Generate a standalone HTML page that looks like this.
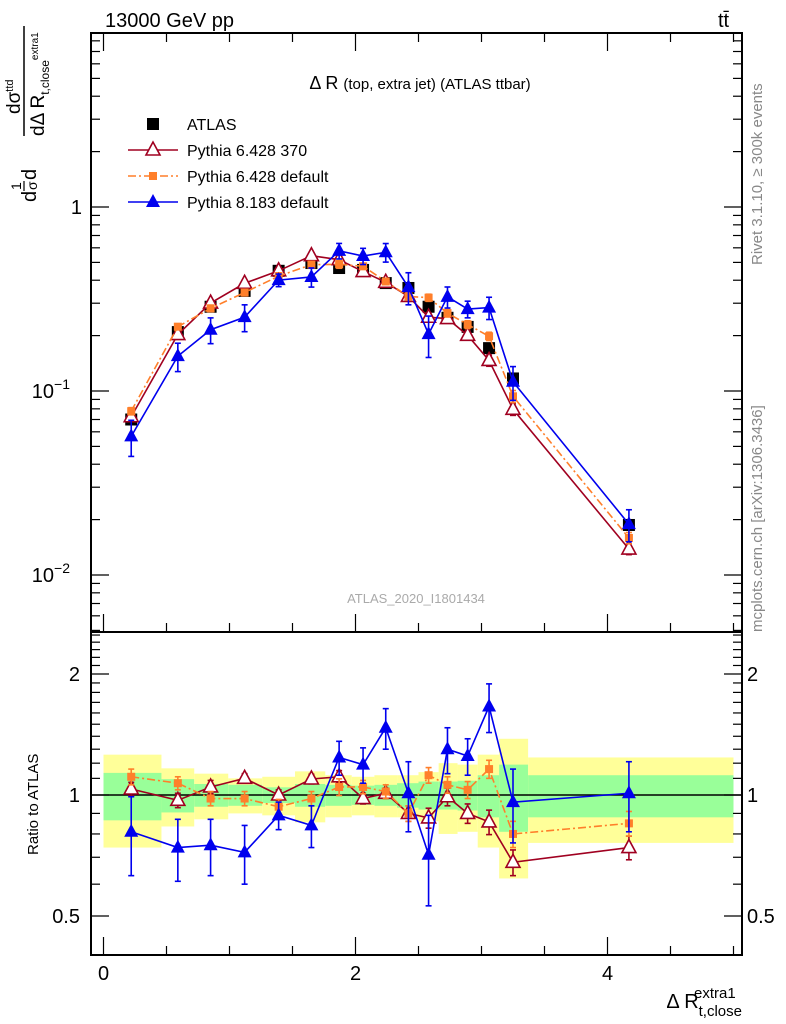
<!DOCTYPE html>
<html><head><meta charset="utf-8"><style>
html,body{margin:0;padding:0;background:#fff;}
svg{display:block;font-family:"Liberation Sans",sans-serif;}
</style></head><body>
<svg id="c" width="786" height="1024" viewBox="0 0 786 1024">
<g id="bands"></g>
<g id="frames"></g>
<g id="series"></g>
<text x="105" y="27" font-size="20">13000 GeV pp</text>
<text x="718" y="27" font-size="20">tt̄</text>
<text x="420" y="89" font-size="18" text-anchor="middle">Δ R <tspan font-size="15">(top, extra jet) (ATLAS ttbar)</tspan></text>
<text x="416" y="603" font-size="13" fill="#aaa" text-anchor="middle">ATLAS_2020_I1801434</text>
<text transform="translate(762,265) rotate(-90)" font-size="15" fill="#888">Rivet 3.1.10, ≥ 300k events</text>
<text transform="translate(762,632) rotate(-90)" font-size="15" fill="#888">mcplots.cern.ch [arXiv:1306.3436]</text>
<g transform="translate(0,212) rotate(-90)">
<text x="10" y="36" font-size="20">d</text>
<text x="22" y="21" font-size="14">1</text>
<line x1="21" x2="31" y1="24" y2="24" stroke="#000" stroke-width="1.2"/>
<text x="22" y="37" font-size="14">σ</text>
<text x="32" y="36" font-size="20">d</text>
<line x1="76" x2="186" y1="24" y2="24" stroke="#000" stroke-width="1.5"/>
<text x="98" y="20" font-size="19">dσ<tspan font-size="11" dy="-7">ttd</tspan></text>
<text x="76" y="44" font-size="19">dΔ R<tspan font-size="12" dy="5">t,close</tspan><tspan font-size="10" dy="-11">extra1</tspan></text>
</g>
<text transform="translate(38,855) rotate(-90)" font-size="15">Ratio to ATLAS</text>
<text x="742" y="1008" font-size="20" text-anchor="end">Δ R<tspan font-size="15" dy="8">t,close</tspan><tspan font-size="15" dx="-48" dy="-18">extra1</tspan></text>
<g id="legend"></g>
</svg>
<script>
const edges=[0,0.46,0.72,0.99,1.26,1.52,1.76,1.97,2.15,2.33,2.50,2.66,2.81,2.97,3.14,3.37,5.0];
const xc=[0.22,0.59,0.85,1.12,1.39,1.65,1.87,2.06,2.24,2.42,2.58,2.73,2.89,3.06,3.25,4.17];
const atlas=[0.070,0.209,0.287,0.35,0.45,0.496,0.466,0.455,0.386,0.363,0.287,0.25,0.223,0.171,0.117,0.0187];
const totErr=[0.26,0.165,0.13,0.10,0.11,0.145,0.12,0.11,0.12,0.12,0.14,0.2,0.19,0.26,0.38,0.24];
const statErr=[0.135,0.095,0.065,0.06,0.045,0.065,0.06,0.055,0.06,0.07,0.08,0.08,0.085,0.12,0.19,0.12];
const rPy6370=[1.035,0.97,1.047,1.10,1.0,1.096,1.11,0.98,1.01,0.90,0.877,0.99,0.90,0.857,0.68,0.74];
const ePy6370=[0.04,0.04,0.04,0.03,0.03,0.03,0.04,0.03,0.03,0.04,0.05,0.05,0.05,0.06,0.05,0.05];
const rPy6def=[1.11,1.07,0.98,0.98,0.935,0.98,1.047,1.047,1.02,0.90,1.12,1.06,1.03,1.16,0.80,0.85];
const ePy6def=[0.05,0.04,0.04,0.04,0.04,0.04,0.05,0.04,0.04,0.04,0.05,0.05,0.05,0.06,0.06,0.06];
const rPy8=[0.81,0.74,0.75,0.72,0.89,0.84,1.24,1.19,1.47,1.01,0.71,1.30,1.25,1.66,0.96,1.01];
const ePy8=[0.18,0.13,0.12,0.12,0.07,0.1,0.12,0.12,0.17,0.2,0.18,0.17,0.13,0.23,0.2,0.2];
const mainTicks=[{v:1,t:"1"},{v:0.1,t:"10",e:"−1"},{v:0.01,t:"10",e:"−2"}];
const ratioTicks=[{v:2,t:"2"},{v:1,t:"1"},{v:0.5,t:"0.5"}];
const xTicks=[0,2,4];

const L=91,R=742,T=33,M=632,B=955;
const X=v=>103.5+126*v;
const Y=v=>207-184*Math.log10(v);
const YR=v=>795-121*Math.log2(v);
const NS="http://www.w3.org/2000/svg";
function mk(tag,at,parent){const e=document.createElementNS(NS,tag);for(const k in at)e.setAttribute(k,at[k]);parent.appendChild(e);return e;}
const bands=document.getElementById('bands'),frames=document.getElementById('frames'),series=document.getElementById('series'),leg=document.getElementById('legend');
const svg=document.getElementById('c');

for(let i=0;i<xc.length;i++){
 const x0=X(edges[i]),x1=X(edges[i+1]);
 const yb=mk('rect',{x:x0,y:YR(1+totErr[i]),width:x1-x0,height:YR(1-totErr[i])-YR(1+totErr[i]),fill:'#ffff99'},bands);
 
 
 const gb=mk('rect',{x:x0,y:YR(1+statErr[i]),width:x1-x0,height:YR(1-statErr[i])-YR(1+statErr[i]),fill:'#99ff99'},bands);
 
 
}
mk('line',{x1:L,x2:R,y1:YR(1),y2:YR(1),stroke:'#000','stroke-width':1.5},bands);

mk('rect',{x:L,y:T,width:R-L,height:M-T,fill:'none',stroke:'#000','stroke-width':2},frames);
mk('rect',{x:L,y:M,width:R-L,height:B-M,fill:'none',stroke:'#000','stroke-width':2},frames);
for(let d=-3;d<=0;d++){for(let m=1;m<10;m++){const v=m*Math.pow(10,d);const y=Y(v);if(y<T||y>M)continue;const len=m==1?18:9;
 mk('line',{x1:L,x2:L+len,y1:y,y2:y,stroke:'#000','stroke-width':1.2},frames);
 mk('line',{x1:R,x2:R-len,y1:y,y2:y,stroke:'#000','stroke-width':1.2},frames);}}
mainTicks.forEach(t=>{const tx=mk('text',{x:t.e?70:82,y:Y(t.v)+7,'font-size':20,'text-anchor':'end'},svg);
 
 
 tx.textContent=t.t;if(t.e){const s=mk('tspan',{'font-size':14,dy:-9},tx);s.textContent=t.e;}});
for(let v=0.4;v<=2.6;v+=0.1){const y=YR(v);if(y<M||y>B)continue;const major=Math.abs(v-1)<1e-6||Math.abs(v-2)<1e-6||Math.abs(v-0.5)<1e-6;const len=major?18:9;
 mk('line',{x1:L,x2:L+len,y1:y,y2:y,stroke:'#000','stroke-width':1.2},frames);
 mk('line',{x1:R,x2:R-len,y1:y,y2:y,stroke:'#000','stroke-width':1.2},frames);}
ratioTicks.forEach(t=>{const a=mk('text',{x:80,y:YR(t.v)+7,'font-size':20,'text-anchor':'end'},svg);a.textContent=t.t;
 
 
 const b=mk('text',{x:747,y:YR(t.v)+7,'font-size':20},svg);b.textContent=t.t;
 
 });
for(let v=0;v<=5.01;v+=0.5){const x=X(v);const len=(Math.round(v*2)%4==0)?18:9;
 mk('line',{x1:x,x2:x,y1:B,y2:B-len,stroke:'#000','stroke-width':1.2},frames);
 mk('line',{x1:x,x2:x,y1:T,y2:T+len,stroke:'#000','stroke-width':1.2},frames);
 mk('line',{x1:x,x2:x,y1:M,y2:M-len,stroke:'#000','stroke-width':1.2},frames);}
xTicks.forEach(v=>{const t=mk('text',{x:X(v),y:980,'font-size':20,'text-anchor':'middle'},svg);t.textContent=v;
 
 });

function marker(type,x,y,col,g){
 if(type=='sq')mk('rect',{x:x-6,y:y-6,width:12,height:12,fill:col},g);
 else if(type=='osq')mk('rect',{x:x-4,y:y-4,width:8,height:8,fill:col},g);
 else if(type=='tri')mk('polygon',{points:`${x},${y-8} ${x-7},${y+5} ${x+7},${y+5}`,fill:col},g);
 else if(type=='otri')mk('polygon',{points:`${x},${y-8} ${x-7},${y+5} ${x+7},${y+5}`,fill:'#fff',stroke:col,'stroke-width':1.6},g);
}
function drawSeries(name,ratio,err,col,type,dash){
 const g=mk('g',{},series);
 
 
 const ptsM=[],ptsR=[];
 for(let i=0;i<xc.length;i++){ptsM.push(X(xc[i])+','+Y(ratio[i]*atlas[i]));ptsR.push(X(xc[i])+','+YR(ratio[i]));}
 const at={fill:'none',stroke:col,'stroke-width':1.6};if(dash)at['stroke-dasharray']=dash;
 mk('polyline',Object.assign({points:ptsM.join(' ')},at),g);
 mk('polyline',Object.assign({points:ptsR.join(' ')},at),g);
 for(let i=0;i<xc.length;i++){const x=X(xc[i]);
  [[Y,atlas[i]],[YR,1]].forEach(([f,s])=>{const y1=f((ratio[i]+err[i])*s),y2=f(Math.max(ratio[i]-err[i],0.05)*s);
   mk('line',{x1:x,x2:x,y1:y1,y2:y2,stroke:col,'stroke-width':1.6},g);
   mk('line',{x1:x-3,x2:x+3,y1:y1,y2:y1,stroke:col,'stroke-width':1.6},g);
   mk('line',{x1:x-3,x2:x+3,y1:y2,y2:y2,stroke:col,'stroke-width':1.6},g);
   marker(type,x,f(ratio[i]*s),col,g);});}
}
const ga=mk('g',{},series);


for(let i=0;i<xc.length;i++)marker('sq',X(xc[i]),Y(atlas[i]),'#000',ga);
drawSeries('pythia-6428-370',rPy6370,ePy6370,'#a00020','otri');
drawSeries('pythia-6428-default',rPy6def,ePy6def,'#ff7f2a','osq','8,3,2,3');
drawSeries('pythia-8183-default',rPy8,ePy8,'#0000ee','tri');

const entries=[['ATLAS','#000','sq',null],['Pythia 6.428 370','#a00020','otri',null],['Pythia 6.428 default','#ff7f2a','osq','8,3,2,3'],['Pythia 8.183 default','#0000ee','tri',null]];
entries.forEach((e,i)=>{const y=124+i*26;const g=mk('g',{},leg);
 
 
 if(e[0]!='ATLAS'){const at={x1:128,x2:178,y1:y,y2:y,stroke:e[1],'stroke-width':1.6};if(e[3])at['stroke-dasharray']=e[3];mk('line',at,g);}
 marker(e[2],153,y,e[1],g);
 const t=mk('text',{x:187,y:y+6,'font-size':16},g);t.textContent=e[0];});
</script>
</body></html>
